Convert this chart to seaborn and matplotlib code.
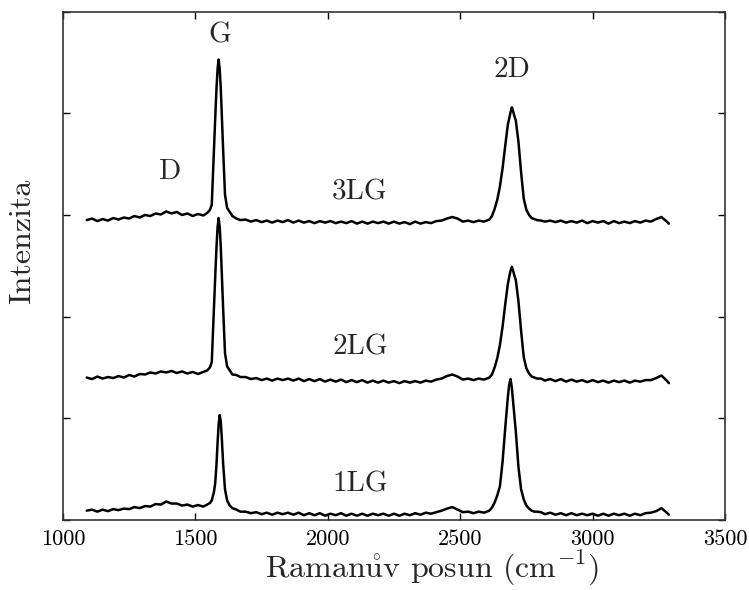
import seaborn as sns
import matplotlib.pyplot as plt
import pandas as pd

# spoločná os Ramanovho posunu (cm^-1)
posun = [1090, 1110, 1130, 1150, 1170, 1190, 1210, 1230, 1250, 1270, 1290, 1310,
         1330, 1350, 1370, 1390, 1410, 1430, 1450, 1470, 1490, 1510, 1530,
         1545, 1555, 1562, 1570, 1575, 1580, 1584, 1588, 1592, 1596, 1600, 1605,
         1612, 1620, 1630, 1640,
         1655, 1670, 1690, 1710, 1730, 1750, 1770, 1790, 1810, 1830, 1850, 1870,
         1890, 1910, 1930, 1950, 1970, 1990, 2010, 2030, 2050, 2070, 2090, 2110,
         2130, 2150, 2170, 2190, 2210, 2230, 2250, 2270, 2290, 2310, 2330, 2350,
         2370, 2390, 2410, 2430, 2450, 2470, 2490, 2510, 2530, 2550, 2570, 2590,
         2600, 2610, 2620, 2630, 2640, 2650, 2660, 2670, 2680, 2685, 2690, 2695,
         2700, 2705, 2710, 2720, 2730, 2740, 2750, 2760, 2770, 2780, 2790,
         2805, 2820, 2840, 2860, 2880, 2900, 2920, 2940, 2960, 2980, 3000, 3020,
         3040, 3060, 3080, 3100, 3120, 3140, 3160, 3180, 3200, 3220, 3240, 3260,
         3280, 3288]

lg3 = [2.95, 2.965, 2.94, 2.96, 2.945, 2.97, 2.955, 2.975, 2.965, 2.99, 2.975, 3.0,
       2.99, 3.015, 3.005, 3.035, 3.015, 3.03, 3.0, 3.015, 2.99, 3.01, 2.995,
       3.02, 3.05, 3.10, 3.64, 3.95, 4.25, 4.44, 4.53, 4.44, 4.25, 3.98, 3.64,
       3.20, 3.07, 3.03, 2.99,
       2.965, 2.95, 2.955, 2.935, 2.95, 2.93, 2.945, 2.925, 2.945, 2.93, 2.95, 2.925,
       2.945, 2.925, 2.94, 2.92, 2.94, 2.925, 2.94, 2.92, 2.935, 2.92, 2.94, 2.915,
       2.935, 2.915, 2.935, 2.92, 2.935, 2.915, 2.935, 2.915, 2.93, 2.91, 2.935, 2.915,
       2.93, 2.92, 2.94, 2.945, 2.965, 2.98, 2.965, 2.935, 2.945, 2.93, 2.945, 2.935,
       2.945, 2.955, 2.99, 3.06, 3.15, 3.28, 3.46, 3.68, 3.89, 3.95, 4.01, 4.06,
       4.02, 3.97, 3.93, 3.72, 3.42, 3.16, 3.05, 3.00, 2.97, 2.96, 2.95,
       2.945, 2.935, 2.945, 2.93, 2.945, 2.925, 2.94, 2.925, 2.945, 2.92, 2.94, 2.925,
       2.94, 2.915, 2.94, 2.92, 2.935, 2.92, 2.94, 2.925, 2.945, 2.935, 2.96, 2.98,
       2.935, 2.915]

lg2 = [1.40, 1.385, 1.41, 1.39, 1.405, 1.395, 1.415, 1.40, 1.425, 1.41, 1.435, 1.43,
       1.45, 1.44, 1.46, 1.45, 1.465, 1.445, 1.46, 1.44, 1.455, 1.435, 1.455,
       1.47, 1.50, 1.55, 2.08, 2.39, 2.69, 2.88, 2.97, 2.88, 2.69, 2.42, 2.08,
       1.64, 1.51, 1.47, 1.43,
       1.425, 1.405, 1.405, 1.385, 1.395, 1.375, 1.39, 1.37, 1.39, 1.375, 1.39, 1.37,
       1.39, 1.365, 1.385, 1.365, 1.385, 1.36, 1.38, 1.36, 1.38, 1.355, 1.375, 1.355,
       1.375, 1.35, 1.37, 1.35, 1.37, 1.35, 1.365, 1.345, 1.365, 1.35, 1.365, 1.35,
       1.37, 1.36, 1.38, 1.39, 1.415, 1.43, 1.41, 1.38, 1.39, 1.375, 1.39, 1.38,
       1.39, 1.40, 1.43, 1.50, 1.59, 1.72, 1.90, 2.12, 2.32, 2.39, 2.45, 2.49,
       2.45, 2.40, 2.36, 2.15, 1.86, 1.60, 1.49, 1.44, 1.41, 1.40, 1.39,
       1.39, 1.37, 1.385, 1.365, 1.385, 1.36, 1.38, 1.36, 1.375, 1.355, 1.375, 1.355,
       1.37, 1.35, 1.37, 1.355, 1.37, 1.35, 1.37, 1.36, 1.375, 1.375, 1.395, 1.42,
       1.37, 1.345]

lg1 = [0.09, 0.10, 0.08, 0.10, 0.085, 0.105, 0.095, 0.11, 0.105, 0.125, 0.115, 0.135,
       0.13, 0.155, 0.15, 0.18, 0.16, 0.16, 0.14, 0.15, 0.13, 0.145, 0.13,
       0.15, 0.165, 0.19, 0.27, 0.36, 0.55, 0.76, 0.94, 1.03, 0.97, 0.80, 0.55,
       0.30, 0.19, 0.14, 0.115,
       0.10, 0.08, 0.08, 0.065, 0.075, 0.055, 0.07, 0.05, 0.07, 0.055, 0.07, 0.05,
       0.07, 0.045, 0.065, 0.045, 0.065, 0.04, 0.06, 0.045, 0.065, 0.04, 0.06, 0.04,
       0.06, 0.04, 0.06, 0.045, 0.06, 0.04, 0.06, 0.04, 0.06, 0.045, 0.065, 0.05,
       0.07, 0.06, 0.075, 0.09, 0.11, 0.125, 0.10, 0.075, 0.08, 0.065, 0.08, 0.07,
       0.08, 0.09, 0.12, 0.17, 0.24, 0.33, 0.57, 0.90, 1.21, 1.33, 1.385, 1.30,
       1.16, 1.03, 0.87, 0.52, 0.30, 0.20, 0.14, 0.11, 0.09, 0.08, 0.08,
       0.075, 0.055, 0.07, 0.05, 0.065, 0.045, 0.065, 0.045, 0.06, 0.045, 0.06, 0.04,
       0.06, 0.04, 0.06, 0.045, 0.06, 0.04, 0.06, 0.045, 0.065, 0.07, 0.085, 0.115,
       0.07, 0.05]

vzorky = ["1LG", "2LG", "3LG"]

# popisky pásov a vrstiev (x, y v dátových súradniciach)
pasy = ["D", "G", "2D"]
pasy_x = [1404, 1593, 2696]
pasy_y = [3.42, 4.77, 4.43]
vrstvy_x = 2122
vrstvy_y = [0.35, 1.70, 3.22]

df = pd.DataFrame({
    "posun": posun * 3,
    "intenzita": lg1 + lg2 + lg3,
    "vzorka": [v for v in vzorky for _ in posun],
})

sns.set_style("ticks")
plt.rcParams["font.family"] = ["cmr10", "DejaVu Serif"]
plt.rcParams["mathtext.fontset"] = "cm"
plt.rcParams["axes.unicode_minus"] = False

fig, ax = plt.subplots(figsize=(7.49, 5.90), dpi=100)
fig.subplots_adjust(left=0.084, right=0.968, bottom=0.119, top=0.98)

sns.lineplot(data=df, x="posun", y="intenzita", hue="vzorka",
             palette={v: "black" for v in vzorky}, estimator=None,
             sort=False, linewidth=1.8, legend=False, ax=ax)

for t, x, y in zip(pasy, pasy_x, pasy_y):
    ax.text(x, y, t, fontsize=21, ha="center", va="center")
for t, y in zip(vzorky, vrstvy_y):
    ax.text(vrstvy_x, y, t, fontsize=21, ha="center", va="center")

ax.set_xlim(1000, 3500)
ax.set_ylim(0, 5)
ax.set_xticks([1000, 1500, 2000, 2500, 3000, 3500])
ax.set_yticks([0, 1, 2, 3, 4, 5])
ax.set_yticklabels([])
ax.tick_params(direction="in", top=True, right=True, length=5, width=1,
               labelsize=16, pad=7, colors="black")
for s in ax.spines.values():
    s.set_linewidth(1.2)
    s.set_color("#333333")

ax.set_xlabel(r"Raman$\mathring{\mathrm{u}}$v posun (cm$^{-1}$)", fontsize=23)
ax.set_ylabel("Intenzita", fontsize=23)
ax.xaxis.set_label_coords(0.557, -0.058)
ax.yaxis.set_label_coords(-0.04, 0.549)

fig.savefig("out.png", dpi=100)
